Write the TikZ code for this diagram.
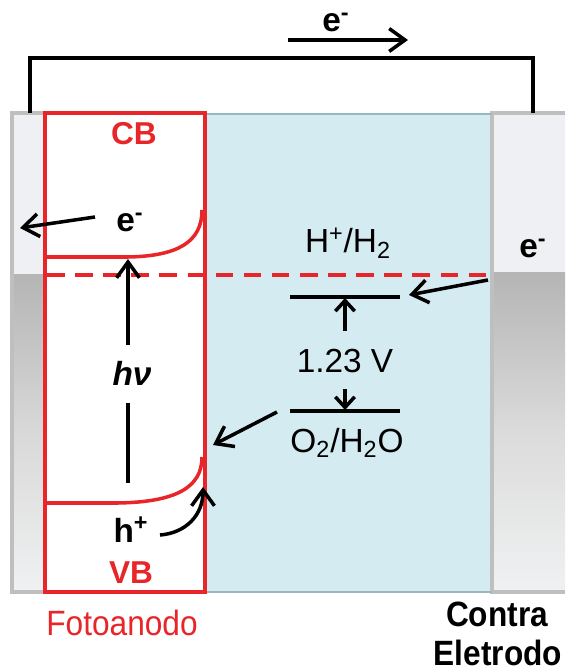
\documentclass[tikz,border=0pt]{standalone}
\usepackage{fontspec}
\setmainfont{Liberation Sans}
\newfontfamily\narrowfont[FakeStretch=0.9]{Liberation Sans}
\usetikzlibrary{arrows.meta}
\definecolor{myred}{HTML}{E8262A}
\definecolor{elec}{HTML}{D4EBF1}
\definecolor{elecedge}{HTML}{97B8C0}
\definecolor{framegray}{HTML}{BFBFBF}
\definecolor{lightpanel}{HTML}{EFF0F3}
\definecolor{darkpanel}{HTML}{B5B5B5}
\definecolor{fadepanel}{HTML}{F0F1F2}
\begin{document}
\begin{tikzpicture}[x=0.02cm,y=-0.02cm,
  lbl/.style={font=\fontsize{19}{22}\selectfont, anchor=base, inner sep=0pt, outer sep=0pt},
  blbl/.style={font=\fontsize{19}{22}\selectfont\bfseries, anchor=base, inner sep=0pt, outer sep=0pt},
  bandlbl/.style={font=\fontsize{18}{21}\selectfont\bfseries, text=myred, anchor=base, inner sep=0pt},
  arr/.style={line width=2pt, -{Straight Barb[length=9pt,width=13pt,line width=2pt]}},
  smallarr/.style={line width=2pt, -{Straight Barb[length=6pt,width=11pt,line width=2pt]}},
  band/.style={draw=myred, line width=2pt},
  level/.style={line width=1.8pt},
  framed/.style={draw=framegray, line width=1.8pt}]
\useasboundingbox (0,0) rectangle (565,671);

% panels
\fill[lightpanel] (12,113) rectangle (45,275);
\shade[top color=darkpanel, bottom color=fadepanel, middle color=gray!30] (12,275) rectangle (45,592);
\fill[white] (45,113) rectangle (205,592);
\fill[elec] (205,113) rectangle (492,592);
\fill[lightpanel] (492,113) rectangle (565,273);
\shade[top color=darkpanel, bottom color=fadepanel, middle color=gray!28] (492,273) rectangle (565,592);

% frame lines
\draw[framed] (12,113) rectangle (45,592);
\draw[framed] (565,113) -- (492,113) -- (492,592) -- (565,592);
\draw[elecedge, line width=1.6pt] (205,114) -- (492,114);
\draw[elecedge, line width=1.6pt] (205,592) -- (492,592);

% external wire
\coordinate (wl) at (30,113);
\coordinate (wr) at (533,113);
\draw[line width=2.4pt] (wl) |- (533,58) -- (wr);
\coordinate (ta) at (288,40);
\coordinate (tb) at (408,40);
\draw[arr] (ta) -- (tb);
\node[blbl] (etop) at (336,32) {e\textsuperscript{-}};

% photoanode box
\draw[myred, line width=2.4pt] (45,113) rectangle (205,592);
\draw[myred, line width=2.4pt, dash pattern=on 10pt off 6pt] (47,275) -- (490,275);

% bands
\draw[band] (46,257) -- (128,257) .. controls (178,256) and (202,242) .. (202,210);
\draw[band] (46,503) -- (118,503) .. controls (175,502) and (202,488) .. (202,457);

\node[bandlbl] (cb) at (134,145) {CB};
\node[bandlbl] (vb) at (131,583) {VB};

% electron in CB
\node[blbl] (ecb) at (130,232) {e\textsuperscript{-}};
\coordinate (eout) at (20,228);
\draw[arr] (95,217) -- (eout);

% photon excitation
\node[blbl, font=\fontsize{19}{22}\selectfont\bfseries\itshape] (hnu) at (132,385) {hν};
\coordinate (cbpt) at (128,259);
\draw[arr] (128,345) -- (cbpt);
\draw[line width=2pt] (128,403) -- (128,483);

% hole
\node[blbl] (hp) at (131,542) {h\textsuperscript{+}};
\coordinate (vbtip) at (203,487);
\draw[arr] (160,535) .. controls (186,533) and (203,515) .. (vbtip);

% redox levels
\node[lbl] (hh) at (348,253) {H\textsuperscript{+}/H\textsubscript{2}};
\coordinate (l1a) at (290,297);
\coordinate (l1b) at (400,297);
\draw[level] (l1a) -- (l1b);
\coordinate (l2a) at (290,411);
\coordinate (l2b) at (400,411);
\draw[level] (l2a) -- (l2b);
\draw[smallarr] (345,331) -- (345,298);
\draw[smallarr] (345,389) -- (345,410);
\node[lbl] (volt) at (345,372) {1.23 V};
\node[lbl] (ooh) at (347,452) {O\textsubscript{2}/H\textsubscript{2}O};

% electron transfer arrows
\coordinate (ceout) at (488,280);
\coordinate (l1end) at (409,295);
\draw[arr] (ceout) -- (l1end);
\coordinate (oxs) at (277,412);
\coordinate (oxe) at (213,445);
\draw[arr] (oxs) -- (oxe);

% counter electrode electron
\node[blbl] (eright) at (533,258) {e\textsuperscript{-}};

% captions
\node[anchor=base, inner sep=0pt, text=myred, font=\fontsize{20}{24}\selectfont\narrowfont] (foto) at (122,635) {Fotoanodo};
\node[anchor=base, inner sep=0pt, font=\fontsize{20}{24}\selectfont\narrowfont\bfseries] (contra) at (497,626) {Contra};
\node[anchor=base, inner sep=0pt, font=\fontsize{20}{24}\selectfont\narrowfont\bfseries] (eletrodo) at (498,665) {Eletrodo};
\end{tikzpicture}
\end{document}
